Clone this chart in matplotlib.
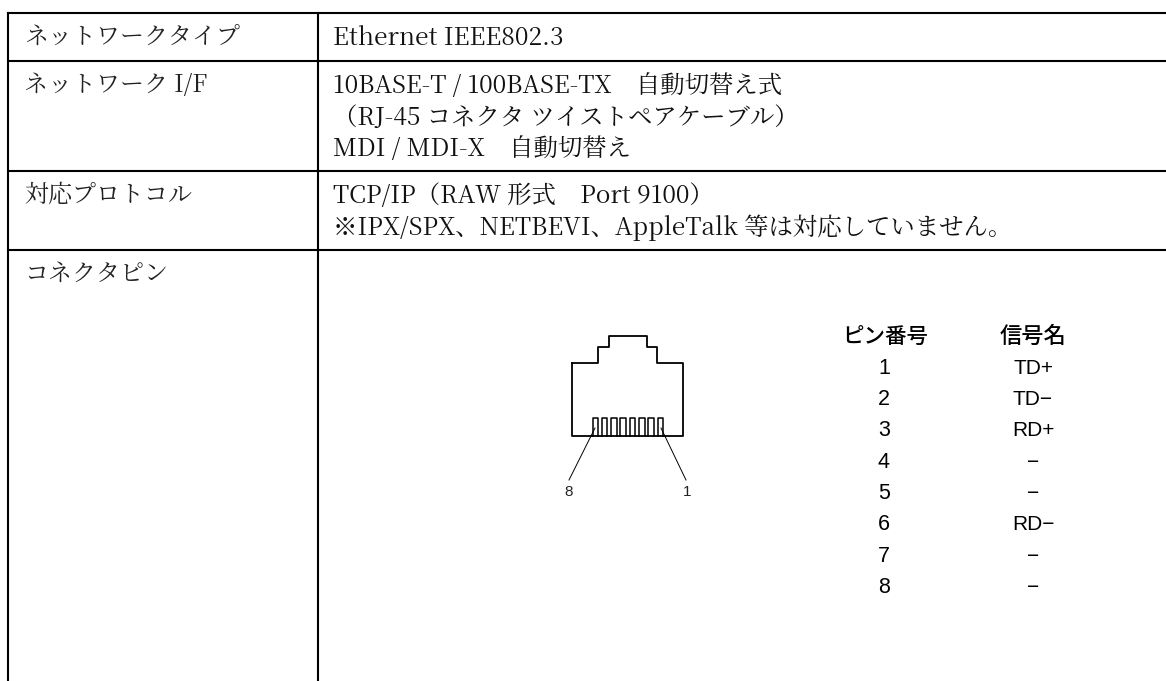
import matplotlib
matplotlib.use('Agg')
import matplotlib.pyplot as plt

serif = ['Noto Serif CJK JP', 'Liberation Serif', 'DejaVu Serif']
gothic = ['Liberation Sans', 'Noto Sans CJK JP', 'DejaVu Sans']

# table contents
row_labels = ['ネットワークタイプ', 'ネットワーク I/F', '対応プロトコル', 'コネクタピン']
row_text = [
    ['Ethernet IEEE802.3'],
    ['10BASE-T / 100BASE-TX　自動切替え式', '（RJ-45 コネクタ ツイストペアケーブル）', 'MDI / MDI-X　自動切替え'],
    ['TCP/IP（RAW 形式　Port 9100）', '※IPX/SPX、NETBEVI、AppleTalk 等は対応していません。'],
    [],
]
row_lines = [13, 61, 171, 250]
pin_numbers = ['1', '2', '3', '4', '5', '6', '7', '8']
signal_names = ['TD+', 'TD−', 'RD+', '−', '−', 'RD−', '−', '−']

fig = plt.figure(figsize=(11.66, 6.81), dpi=100)
ax = fig.add_axes([0, 0, 1, 1])
ax.set_xlim(0, 1166)
ax.set_ylim(681, 0)
ax.axis('off')

# grid lines, the right side runs off the page
for y in row_lines:
    ax.plot([8, 1166], [y, y], color='black', lw=1.5)
for x in [8, 318]:
    ax.plot([x, x], [13, 681], color='black', lw=1.5)

# text of the table
for i, label in enumerate(row_labels):
    ax.text(24, row_lines[i] + 24, label, fontsize=17.3, family=serif, va='center', color='#222222')
    for j, line in enumerate(row_text[i]):
        ax.text(333, row_lines[i] + 25 + j * 31.5, line, fontsize=17.6, family=serif, va='center', color='#111111')

# connector outline
outline_x = [572, 598, 598, 609, 609, 647, 647, 657, 657, 683, 683, 572, 572]
outline_y = [363, 363, 347, 347, 336, 336, 347, 347, 363, 363, 436, 436, 363]
ax.plot(outline_x, outline_y, color='black', lw=1.3)

# pins
for k in range(8):
    left = 592.5 + k * 9.33
    ax.plot([left, left, left + 5.5, left + 5.5], [436, 418, 418, 436], color='black', lw=1.1)

# leader lines and their numbers
ax.plot([595, 569], [428, 480], color='black', lw=0.7)
ax.plot([661, 686], [428, 480], color='black', lw=0.7)
ax.text(569, 492, '8', fontsize=11, family=gothic, ha='center', va='center', color='#222222')
ax.text(687, 492, '1', fontsize=11, family=gothic, ha='center', va='center', color='#222222')

# pin table
ax.text(885, 337, 'ピン番号', fontsize=15.5, family=gothic, ha='center', va='center', weight='medium')
ax.text(1033, 337, '信号名', fontsize=16, family=gothic, ha='center', va='center', weight='medium')
for i in range(8):
    ax.text(884, 368 + i * 31.4, pin_numbers[i], fontsize=15.5, family=gothic, ha='center', va='center')
    ax.text(1033, 368 + i * 31.4, signal_names[i], fontsize=15, family=gothic, ha='center', va='center')

fig.savefig('out.png', dpi=100)
